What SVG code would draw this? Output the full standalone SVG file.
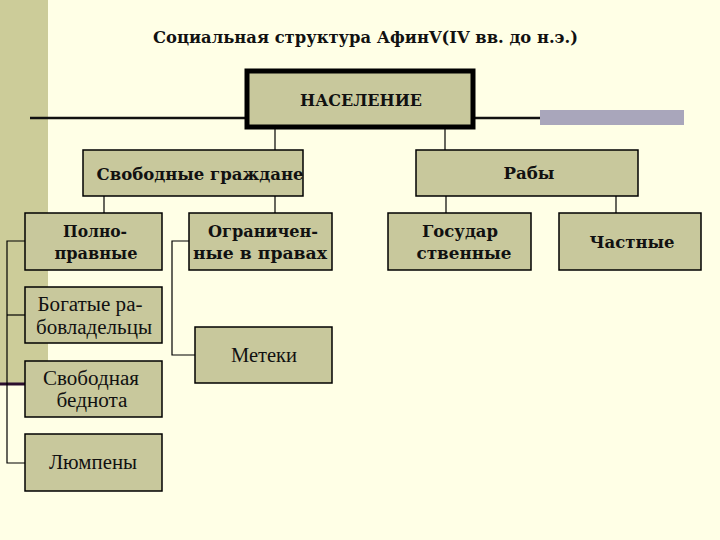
<svg xmlns="http://www.w3.org/2000/svg" width="720" height="540" viewBox="0 0 720 540">
<style>
.bx{fill:#c8c89c;stroke:#000;stroke-width:1.5}
.b{font-family:"DejaVu Serif",serif;font-weight:bold;font-size:16px;fill:#111;text-anchor:middle}
.r{font-family:"Liberation Serif",serif;font-size:20px;fill:#111;text-anchor:middle}
.c{fill:none;stroke:#000;stroke-width:1.2}
</style>
<rect width="720" height="540" fill="#ffffe6"/>
<rect x="0" y="0" width="48" height="383" fill="#cccc99"/>
<line x1="0" y1="384" x2="25" y2="384" stroke="#2b0f2e" stroke-width="3"/>
<line x1="30" y1="118" x2="245" y2="118" stroke="#111" stroke-width="2.5"/>
<line x1="475" y1="118" x2="541" y2="118" stroke="#111" stroke-width="2.5"/>
<rect x="540" y="110" width="144" height="15" fill="#a9a6bb"/>
<text id="title" class="b" x="153" y="43" style="text-anchor:start;font-size:16px" textLength="425" lengthAdjust="spacingAndGlyphs">Социальная структура АфинV(IV вв. до н.э.)</text>
<g id="connectors" class="c">
<line x1="275" y1="129" x2="275" y2="150"/>
<line x1="445" y1="129" x2="445" y2="150"/>
<line x1="104" y1="196" x2="104" y2="213"/>
<line x1="275" y1="196" x2="275" y2="213"/>
<line x1="446" y1="196" x2="446" y2="213"/>
<line x1="616" y1="196" x2="616" y2="213"/>
<polyline points="25,241 7,241 7,463 25,463"/>
<line x1="7" y1="315" x2="25" y2="315"/>
<polyline points="189,241 172,241 172,355 195,355"/>
</g>
<g id="naselenie">
<rect x="247" y="71" width="226" height="56" fill="#c8c89c" stroke="#000" stroke-width="5"/>
<text class="b" x="361" y="106" textLength="122" lengthAdjust="spacingAndGlyphs">НАСЕЛЕНИЕ</text>
</g>
<g id="svobodnye">
<rect class="bx" x="83" y="150" width="220" height="46"/>
<text class="b" x="200" y="180" textLength="207" lengthAdjust="spacingAndGlyphs">Свободные граждане</text>
</g>
<g id="raby">
<rect class="bx" x="416" y="150" width="222" height="46"/>
<text class="b" x="529" y="179" textLength="51" lengthAdjust="spacingAndGlyphs">Рабы</text>
</g>
<g id="polnopravnye">
<rect class="bx" x="25" y="213" width="137" height="57"/>
<text class="b" x="95" y="237" textLength="64" lengthAdjust="spacingAndGlyphs">Полно-</text>
<text class="b" x="96" y="259" textLength="83" lengthAdjust="spacingAndGlyphs">правные</text>
</g>
<g id="ogranichennye">
<rect class="bx" x="189" y="213" width="143" height="57"/>
<text class="b" x="263" y="237" textLength="110" lengthAdjust="spacingAndGlyphs">Ограничен-</text>
<text class="b" x="260" y="259" textLength="134" lengthAdjust="spacingAndGlyphs">ные в правах</text>
</g>
<g id="gosudarstvennye">
<rect class="bx" x="388" y="213" width="143" height="57"/>
<text class="b" x="460" y="237" textLength="76" lengthAdjust="spacingAndGlyphs">Государ</text>
<text class="b" x="464" y="259" textLength="95" lengthAdjust="spacingAndGlyphs">ственные</text>
</g>
<g id="chastnye">
<rect class="bx" x="559" y="213" width="142" height="57"/>
<text class="b" x="632" y="248" textLength="85" lengthAdjust="spacingAndGlyphs">Частные</text>
</g>
<g id="bogatye">
<rect class="bx" x="25" y="287" width="137" height="56"/>
<text class="r" x="90" y="311" textLength="105" lengthAdjust="spacingAndGlyphs">Богатые ра-</text>
<text class="r" x="94" y="334" textLength="116" lengthAdjust="spacingAndGlyphs">бовладельцы</text>
</g>
<g id="metek">
<rect class="bx" x="195" y="327" width="137" height="56"/>
<text class="r" x="264" y="362" textLength="66" lengthAdjust="spacingAndGlyphs">Метеки</text>
</g>
<g id="bednota">
<rect class="bx" x="25" y="361" width="137" height="56"/>
<text class="r" x="91" y="385" textLength="96" lengthAdjust="spacingAndGlyphs">Свободная</text>
<text class="r" x="92" y="407" textLength="71" lengthAdjust="spacingAndGlyphs">беднота</text>
</g>
<g id="lumpen">
<rect class="bx" x="25" y="434" width="137" height="57"/>
<text class="r" x="93" y="469" textLength="88" lengthAdjust="spacingAndGlyphs">Люмпены</text>
</g>
</svg>
